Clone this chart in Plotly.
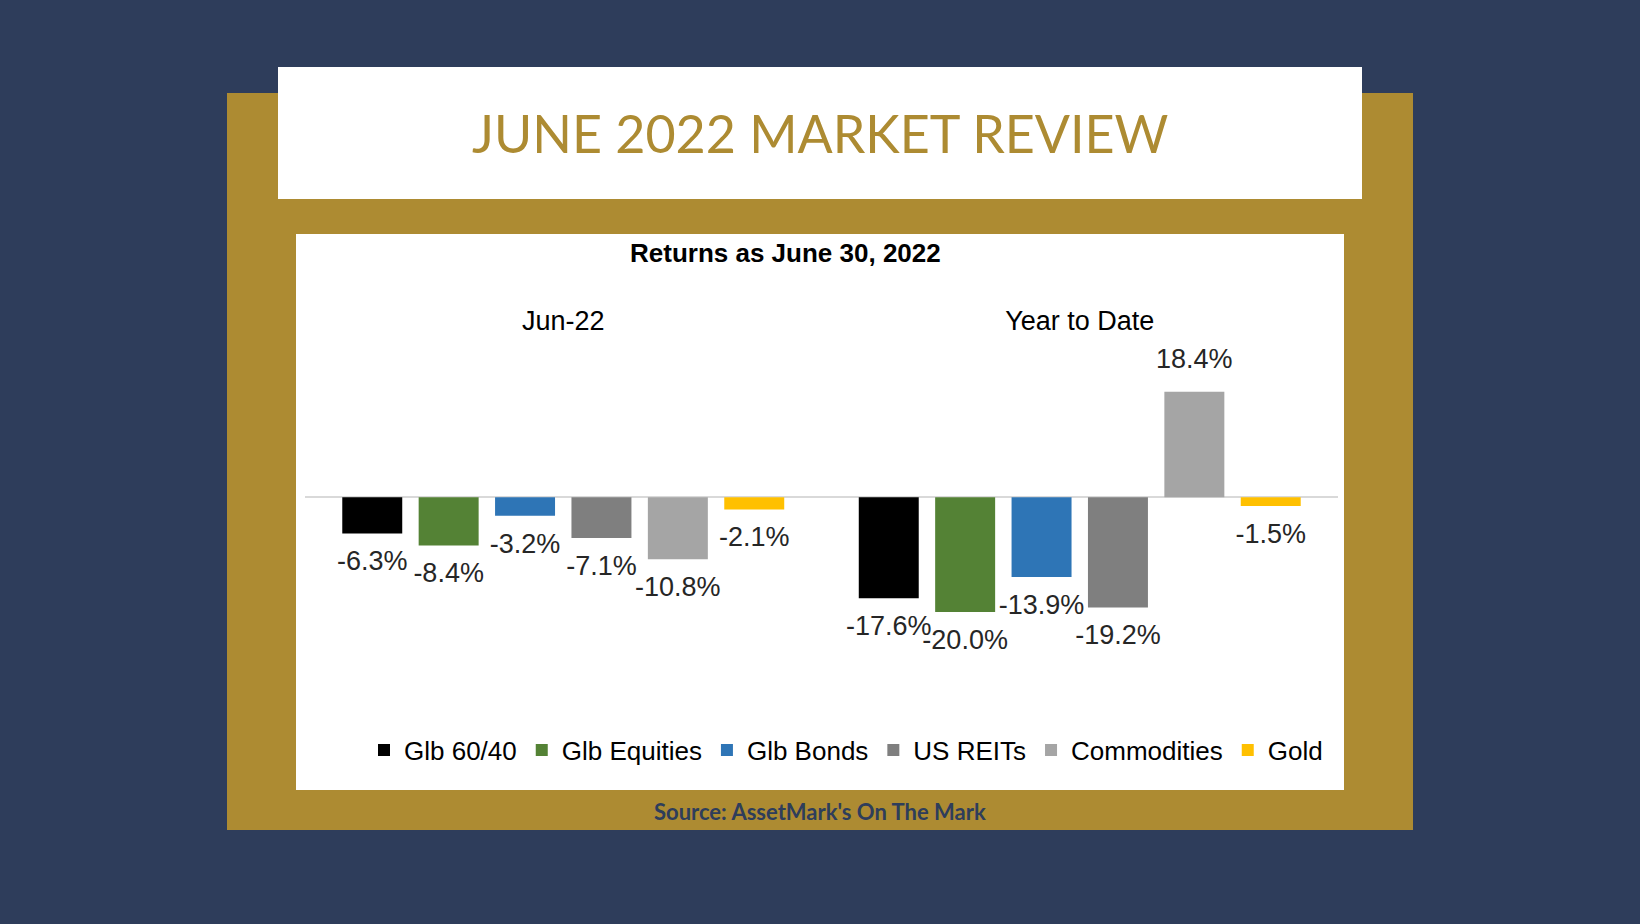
import plotly.graph_objects as go

# Data
periods = ["Jun-22", "Year to Date"]
assets = ["Glb 60/40", "Glb Equities", "Glb Bonds", "US REITs", "Commodities", "Gold"]
returns = {
    "Glb 60/40": [-6.3, -17.6],
    "Glb Equities": [-8.4, -20.0],
    "Glb Bonds": [-3.2, -13.9],
    "US REITs": [-7.1, -19.2],
    "Commodities": [-10.8, 18.4],
    "Gold": [-2.1, -1.5],
}
asset_colors = ["#000000", "#548235", "#2E75B6", "#7F7F7F", "#A5A5A5", "#FFC000"]

NAVY = "#2E3D5B"
GOLD = "#AD8B32"
FONT = "Liberation Sans, Arial"
W, H = 1640, 924
GAP = 0.1125


def px_box(x0, y0, x1, y1):
    # pixel box -> paper coords
    return dict(x0=x0 / W, x1=x1 / W, y0=1 - y1 / H, y1=1 - y0 / H)


fig = go.Figure()

for name, color in zip(assets, asset_colors):
    vals = returns[name]
    fig.add_trace(go.Bar(
        x=periods,
        y=vals,
        name=name,
        offsetgroup=name,
        marker=dict(color=color, line=dict(width=0)),
        hoverinfo="skip",
    ))

# value labels, grouped the same way as the bars so they sit over each bar
for name in assets:
    vals = returns[name]
    fig.add_trace(go.Scatter(
        x=periods,
        y=vals,
        mode="markers+text",
        offsetgroup=name,
        marker=dict(size=25, opacity=0),
        text=[f"{v:.1f}%" for v in vals],
        textposition=["top center" if v > 0 else "bottom center" for v in vals],
        textfont=dict(family=FONT, size=27, color="#262626"),
        cliponaxis=False,
        showlegend=False,
        hoverinfo="skip",
    ))

shapes = [
    dict(type="rect", xref="paper", yref="paper", layer="below",
         fillcolor=GOLD, line=dict(width=0), **px_box(227, 93, 1413, 830)),
    dict(type="rect", xref="paper", yref="paper", layer="below",
         fillcolor="white", line=dict(width=0), **px_box(278, 67, 1362, 199)),
    dict(type="rect", xref="paper", yref="paper", layer="below",
         fillcolor="white", line=dict(width=0), **px_box(296, 234, 1344, 790)),
]

annotations = [
    dict(text="JUNE 2022 MARKET REVIEW", xref="paper", yref="paper",
         x=820 / W, y=1 - 133 / H, showarrow=False, xanchor="center", yanchor="middle",
         font=dict(family="Lato", size=52, color=GOLD)),
    dict(text="<b>Returns as June 30, 2022</b>", xref="paper", yref="paper",
         x=785 / W, y=1 - 253 / H, showarrow=False, xanchor="center", yanchor="middle",
         font=dict(family=FONT, size=26, color="#000000")),
    dict(text="<b>Source: AssetMark's On The Mark</b>", xref="paper", yref="paper",
         x=820 / W, y=1 - 811 / H, showarrow=False, xanchor="center", yanchor="middle",
         font=dict(family="Lato", size=22, color=NAVY)),
]

fig.update_layout(
    width=W, height=H,
    margin=dict(l=0, r=0, t=0, b=0),
    paper_bgcolor=NAVY,
    plot_bgcolor="rgba(0,0,0,0)",
    barmode="group",
    bargap=GAP,
    bargroupgap=0.215,
    scattermode="group",
    scattergap=GAP,
    shapes=shapes,
    annotations=annotations,
    showlegend=True,
    legend=dict(
        orientation="h", x=846 / W, y=1 - 750 / H, xanchor="center", yanchor="middle",
        font=dict(family=FONT, size=26, color="#000000"),
        bgcolor="rgba(0,0,0,0)", itemwidth=30, traceorder="normal",
    ),
    xaxis=dict(
        domain=[305 / W, 1338 / W], side="top", showgrid=False, showline=False,
        ticks="", ticklabelstandoff=6,
        tickfont=dict(family=FONT, size=27, color="#000000"),
        fixedrange=True,
    ),
    yaxis=dict(
        domain=[1 - 702 / H, 1 - 342 / H], range=[-35.7, 27.1],
        showgrid=False, showticklabels=False, zeroline=True,
        zerolinecolor="#D9D9D9", zerolinewidth=2, fixedrange=True,
    ),
    hovermode=False,
)

# page body has an 8px default margin; drop it so the figure fills the window
fig.write_html("out.html", config={"displayModeBar": False},
               post_script="document.body.style.margin='0';")
